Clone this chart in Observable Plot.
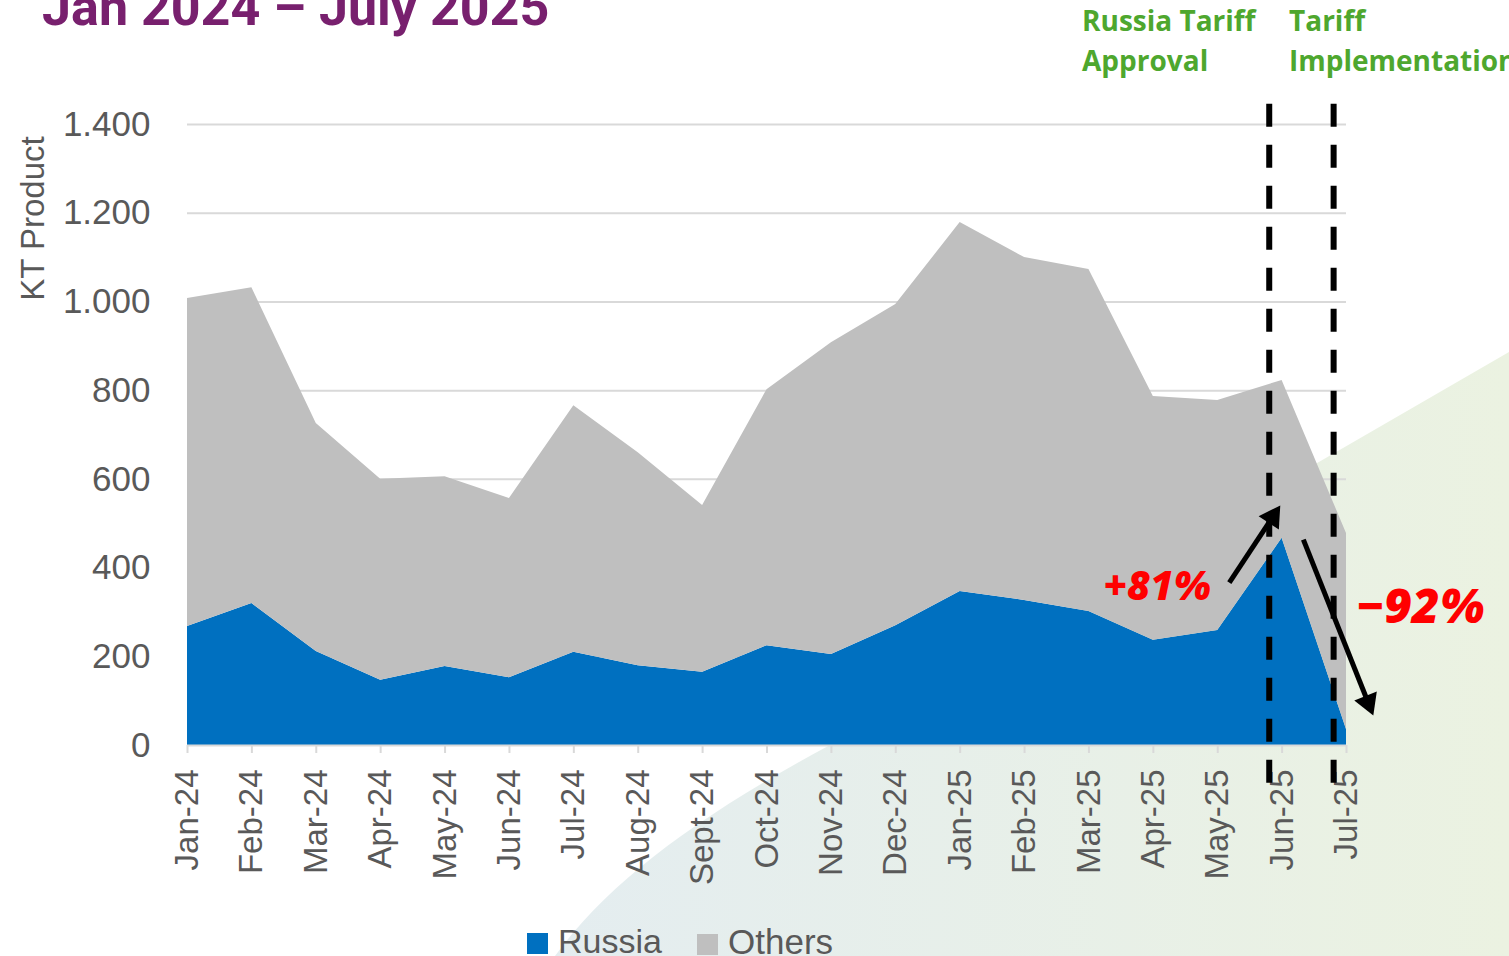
<!DOCTYPE html>
<html>
<head>
<meta charset="utf-8">
<script src="https://cdn.jsdelivr.net/npm/d3@7"></script>
<script src="https://cdn.jsdelivr.net/npm/@observablehq/plot@0.6"></script>
<style>
  html, body { margin: 0; padding: 0; background: #ffffff; overflow: hidden; }
  #page { position: relative; width: 1509px; height: 956px; overflow: hidden; }
  #bg { position: absolute; left: 0; top: 0; }
  #chart { position: absolute; left: 0; top: 0; }
  .title { position: absolute; left: 42px; top: -18px; font-family: Roboto, sans-serif; font-weight: 700; font-size: 52px; line-height: 52px; color: #78206E; white-space: nowrap; }
  .green { position: absolute; font-family: "Open Sans", sans-serif; font-weight: 700; font-size: 28px; line-height: 40px; color: #4EA72E; white-space: nowrap; }
  .legend { position: absolute; top: 922px; font-family: "Liberation Sans", Arial, sans-serif; font-size: 34px; color: #595959; white-space: nowrap; display: flex; align-items: center; }
  .legend .sw { display: inline-block; width: 21px; height: 21px; margin-right: 10px; margin-top: 4px; }
</style>
</head>
<body>
<div id="page">
  <svg id="bg" width="1509" height="956">
    <defs>
      <linearGradient id="g" x1="555" y1="0" x2="1509" y2="0" gradientUnits="userSpaceOnUse">
        <stop offset="0" stop-color="#E4EDF0"/>
        <stop offset="1" stop-color="#EBF2E1"/>
      </linearGradient>
    </defs>
    <path d="M555,956 C610,880 700,815 830,745 L1509,352 L1509,956 Z" fill="url(#g)"/>
  </svg>
  <div id="chart"></div>
  <div class="title">Jan 2024 – July 2025</div>
  <div class="green" style="left:1082px; top:0px;">Russia Tariff<br>Approval</div>
  <div class="green" style="left:1289px; top:0px;">Tariff<br>Implementation</div>
  <div class="legend" style="left:527px;"><span class="sw" style="background:#0070C0"></span>Russia</div>
  <div class="legend" style="left:697px; font-size:35px;"><span class="sw" style="background:#BFBFBF"></span>Others</div>
</div>
<script>
// ---- data ----
const months = ["Jan-24","Feb-24","Mar-24","Apr-24","May-24","Jun-24","Jul-24","Aug-24","Sept-24","Oct-24","Nov-24","Dec-24","Jan-25","Feb-25","Mar-25","Apr-25","May-25","Jun-25","Jul-25"];
const russia = [268, 320, 212, 147, 178, 153, 210, 180, 165, 225, 205, 270, 347, 327, 302, 237, 259, 467, 36];
const others = [740, 712, 514, 453, 428, 404, 556, 480, 376, 577, 703, 724, 832, 773, 771, 550, 519, 356, 442];
const seriesNames = ["Russia", "Others"];
const seriesColors = ["#0070C0", "#BFBFBF"];
const yTicks = [0, 200, 400, 600, 800, 1000, 1200, 1400];
const eventLabels = ["Russia Tariff Approval", "Tariff Implementation"];
const eventPositions = [16.8, 17.8];
const changeLabels = ["+81%", "\u221292%"];

// ---- build table ----
const rows = [];
months.forEach((m, i) => {
  rows.push({i, month: m, series: "Russia", value: russia[i]});
  rows.push({i, month: m, series: "Others", value: others[i]});
});

const fmt = d3.formatLocale({decimal: ",", thousands: ".", grouping: [3], currency: ["", ""]}).format(",");

// annotation arrows: shaft start, head centre, head rotation (deg)
const arrows = [
  {x1: 16.18, y1: 367, x2: 16.852, y2: 515, rot: 33.5},
  {x1: 17.33, y1: 464, x2: 18.336, y2: 97, rot: 158.3}
];
const pctText = [
  {x: 15.06, y: 356, label: changeLabels[0], size: 40},
  {x: 19.15, y: 311, label: changeLabels[1], size: 48}
];

const chart = Plot.plot({
  width: 1509,
  height: 956,
  marginTop: 124,
  marginBottom: 211,
  marginLeft: 187,
  marginRight: 163,
  style: {background: "transparent", fontFamily: "'Liberation Sans', Arial, sans-serif", fontSize: "33px", color: "#595959", overflow: "visible"},
  x: {domain: [0, 18]},
  y: {domain: [0, 1400]},
  color: {domain: seriesNames, range: seriesColors},
  marks: [
    Plot.gridY(yTicks.filter(d => d > 0), {stroke: "#D9D9D9", strokeOpacity: 1, strokeWidth: 2}),
    Plot.areaY(rows, {x: "i", y: "value", fill: "series", order: seriesNames}),
    Plot.ruleY([0], {stroke: "#D9D9D9", strokeWidth: 2}),
    Plot.axisY({ticks: yTicks, tickFormat: fmt, tickSize: 0, tickPadding: 37, fontSize: 35, fill: "#595959", label: null}),
    Plot.axisX({ticks: d3.range(months.length), tickFormat: i => months[i], tickRotate: -90, tickSize: 8, tickPadding: 16, stroke: "#D9D9D9", strokeWidth: 2, fontSize: 33, fill: "#595959", label: null}),
    Plot.text(["KT Product"], {frameAnchor: "top-left", dx: -167, dy: 94, rotate: -90, textAnchor: "middle", fontSize: 33, fill: "#595959"}),
    Plot.ruleX(eventPositions, {y1: -85, y2: 1460, stroke: "#000000", strokeWidth: 6, strokeDasharray: "23,18"}),
    Plot.link(arrows, {x1: "x1", y1: "y1", x2: "x2", y2: "y2", stroke: "#000000", strokeWidth: 5}),
    Plot.dot(arrows, {x: "x2", y: "y2", symbol: "triangle", r: 9, fill: "#000000", stroke: null, rotate: "rot"}),
    Plot.text(pctText, {x: "x", y: "y", text: "label", fontSize: d => d.size, fill: "#FF0000", fontWeight: 800, fontStyle: "italic", fontFamily: "'Open Sans', sans-serif", textAnchor: "middle"})
  ]
});
document.getElementById("chart").appendChild(chart);
</script>
</body>
</html>
